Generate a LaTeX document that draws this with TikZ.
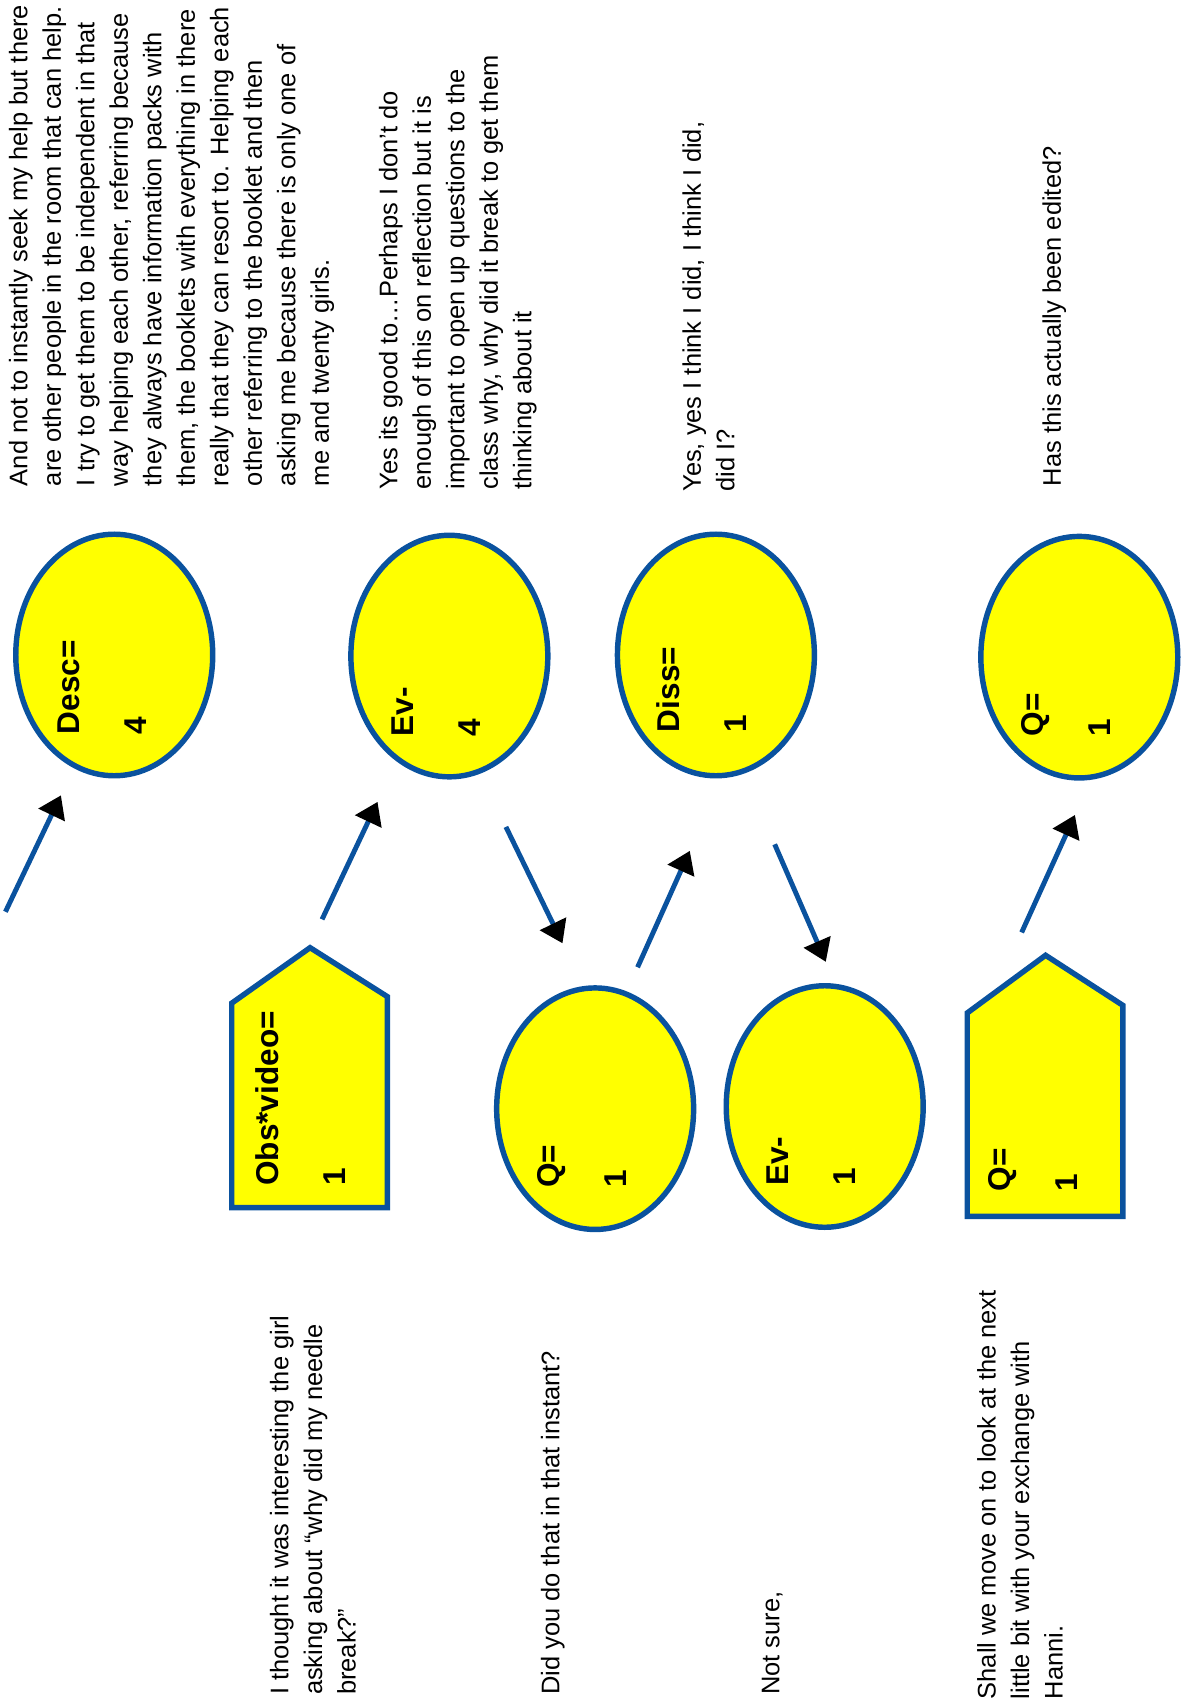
\documentclass[tikz,border=0pt]{standalone}
\usepackage{fontspec}
\setmainfont{Liberation Sans}
\usetikzlibrary{arrows.meta,shapes.geometric}
\definecolor{bord}{RGB}{10,82,158}
\definecolor{fillY}{RGB}{255,255,0}
\begin{document}
\begin{tikzpicture}[x=1pt,y=-1pt,
 ell/.style={ellipse, draw=bord, fill=fillY, line width=5pt, minimum width=181pt, minimum height=222pt, inner sep=0pt},
 house/.style={draw=bord, fill=fillY, line width=5pt, line join=miter},
 lbl/.style={rotate=90, anchor=north west, inner sep=0pt, align=left, font=\fontsize{29}{61.5}\selectfont\bfseries},
 txt/.style={rotate=90, anchor=north west, inner sep=0pt, align=left, font=\fontsize{23.4}{30.8}\selectfont},
 arr/.style={draw=bord, line width=4.5pt, -{Triangle[length=20pt,width=26pt,color=black]}}]
\useasboundingbox (0,0) rectangle (1090,1568);

% ellipses
\node[ell] (desc) at (105,602) {};
\node[ell] (evA) at (413,603) {};
\node[ell] (diss) at (658,602) {};
\node[ell] (qA) at (992,604) {};
\node[ell] (qB) at (547,1019) {};
\node[ell] (evB) at (758,1017) {};

% pentagons
\draw[house] (213,922) -- (285,871) -- (356,916) -- (356,1110) -- (213,1110) -- cycle;
\draw[house] (889,931) -- (961,878) -- (1032,924) -- (1032,1118) -- (889,1118) -- cycle;

% labels
\node[lbl] (descl) at (53,675) {Desc=\\4};
\node[lbl] (evAl) at (360,677) {Ev-\\4};
\node[lbl] (dissl) at (603,673) {Diss=\\1};
\node[lbl] (qAl) at (939,677) {Q=\\1};
\node[lbl] (qBl) at (494,1092) {Q=\\1};
\node[lbl] (evBl) at (705,1090) {Ev-\\1};
\node[lbl] (obsl) at (235,1090) {Obs*video=\\1};
\node[lbl] (qCl) at (908,1095) {Q=\\1};

% arrows
\coordinate (a1s) at (5,838);   \coordinate (a1e) at (56,731);
\coordinate (a2s) at (296,845); \coordinate (a2e) at (347,737);
\coordinate (a3s) at (465,760); \coordinate (a3e) at (517,867);
\coordinate (a4s) at (586,889); \coordinate (a4e) at (634,782);
\coordinate (a5s) at (712,776); \coordinate (a5e) at (759,884);
\coordinate (a6s) at (939,857); \coordinate (a6e) at (988,749);
\draw[arr] (a1s) -- (a1e);
\draw[arr] (a2s) -- (a2e);
\draw[arr] (a3s) -- (a3e);
\draw[arr] (a4s) -- (a4e);
\draw[arr] (a5s) -- (a5e);
\draw[arr] (a6s) -- (a6e);

% texts
\node[txt] (t1) at (8,447) {And not to instantly seek my help but there\\
are other people in the room that can help.\\
I try to get them to be independent in that\\
way helping each other, referring because\\
they always have information packs with\\
them, the booklets with everything in there\\
really that they can resort to. Helping each\\
other referring to the booklet and then\\
asking me because there is only one of\\
me and twenty girls.};
\node[txt] (t2) at (348,450) {Yes its good to…Perhaps I don’t do\\
enough of this on reflection but it is\\
important to open up questions to the\\
class why, why did it break to get them\\
thinking about it};
\node[txt] (t3) at (627,452) {Yes, yes I think I did, I think I did,\\
did I?};
\node[txt] (t4) at (958,447) {Has this actually been edited?};
\node[txt] (t5) at (248,1558) {I thought it was interesting the girl\\
asking about “why did my needle\\
break?”};
\node[txt] (t6) at (497,1558) {Did you do that in that instant?};
\node[txt] (t7) at (700,1558) {Not sure,};
\node[txt] (t8) at (898,1562) {Shall we move on to look at the next\\
little bit with your exchange with\\
Hanni.};
\end{tikzpicture}
\end{document}
